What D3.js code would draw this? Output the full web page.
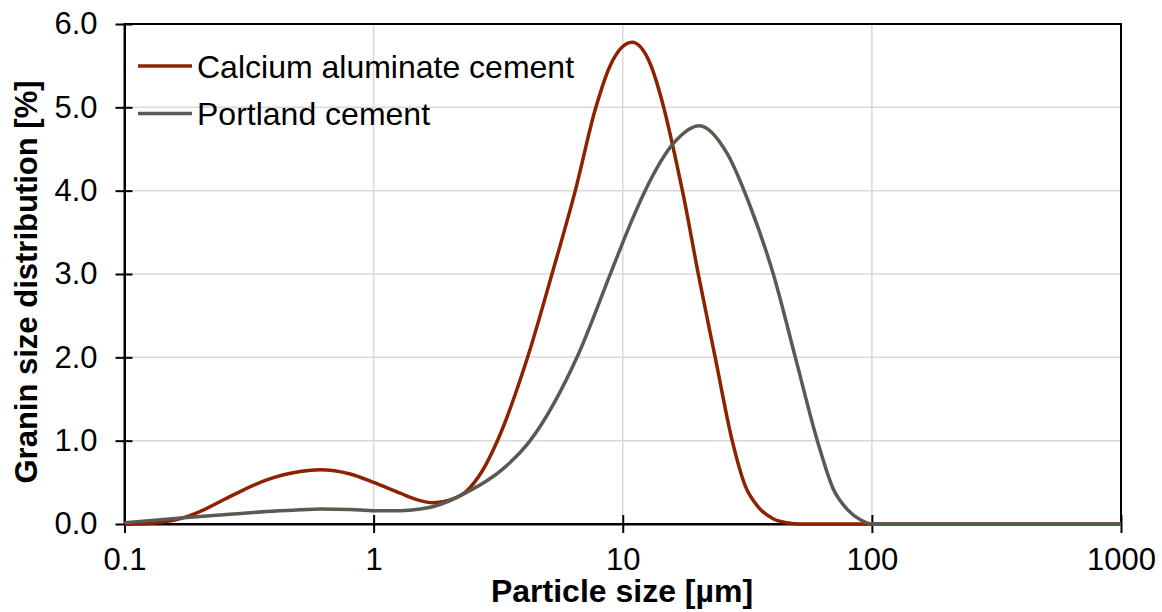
<!DOCTYPE html>
<html>
<head>
<meta charset="utf-8">
<script src="https://cdn.jsdelivr.net/npm/d3@7"></script>
<style>
  html, body { margin: 0; padding: 0; background: #fff; }
  svg { display: block; font-family: "Liberation Sans", Arial, sans-serif; }
</style>
</head>
<body>
<svg id="chart" width="1162" height="612"></svg>
<script>
// Particle size (µm) and distribution (%) for each cement
const cacSize = [0.1, 0.1154, 0.139, 0.16, 0.183, 0.201, 0.2735, 0.3725, 0.507, 0.61, 0.805, 1.0, 1.278, 1.5, 1.74, 2.03, 2.37, 2.72, 3.14, 4.15, 5.2, 6.45, 7.8, 8.9, 10.9, 12.9, 14.6, 16.2, 17.5, 20.1, 23.5, 27.5, 31.0, 35.1, 40.3, 45.6, 51.6, 100, 1000];
const cacValue = [0.0, 0.0, 0.02, 0.05, 0.1, 0.15, 0.35, 0.53, 0.63, 0.65, 0.60, 0.50, 0.37, 0.29, 0.255, 0.29, 0.40, 0.63, 1.0, 2.0, 3.0, 4.0, 5.0, 5.5, 5.78, 5.52, 5.0, 4.42, 3.95, 3.0, 2.0, 1.0, 0.46, 0.2, 0.06, 0.015, 0.0, 0.0, 0.0];

const opcSize = [0.1, 0.183, 0.2735, 0.3725, 0.507, 0.61, 0.805, 1.0, 1.278, 1.54, 1.74, 2.03, 2.37, 3.27, 4.25, 6.55, 9.05, 10.9, 12.3, 16.0, 20.3, 26.2, 32.5, 40.2, 49.3, 60.4, 70.0, 80.0, 90.0, 100, 1000];
const opcValue = [0.016, 0.08, 0.12, 0.15, 0.17, 0.18, 0.175, 0.16, 0.16, 0.18, 0.21, 0.28, 0.38, 0.65, 1.0, 2.0, 3.05, 3.65, 4.0, 4.57, 4.78, 4.45, 3.81, 3.0, 2.0, 1.0, 0.42, 0.17, 0.05, 0.0, 0.0];

const seriesNames = ["Calcium aluminate cement", "Portland cement"];
const seriesColors = ["#8c2200", "#595a52"];

const xTicks = [0.1, 1, 10, 100, 1000];
const xTickLabels = ["0.1", "1", "10", "100", "1000"];
const yTicks = [0, 1, 2, 3, 4, 5, 6];
const yTickLabels = ["0.0", "1.0", "2.0", "3.0", "4.0", "5.0", "6.0"];

const xTitle = "Particle size [µm]";
const yTitle = "Granin size distribution [%]";

const svg = d3.select("#chart");
const plotLeft = 124.5, plotRight = 1121, plotTop = 24, plotBottom = 524;

const x = d3.scaleLog().domain([0.1, 1000]).range([plotLeft, plotRight]);
const y = d3.scaleLinear().domain([0, 6]).range([plotBottom, plotTop]);

// Gridlines
const grid = svg.append("g");
grid.selectAll("line.h").data(yTicks.slice(1, -1)).join("line")
  .attr("class", "h")
  .attr("x1", plotLeft).attr("x2", plotRight)
  .attr("y1", d => y(d)).attr("y2", d => y(d))
  .attr("stroke", "#d9d9d9").attr("stroke-width", 1.5);
grid.selectAll("line.v").data(xTicks.slice(1, -1)).join("line")
  .attr("class", "v")
  .attr("x1", d => x(d)).attr("x2", d => x(d))
  .attr("y1", plotTop).attr("y2", plotBottom)
  .attr("stroke", "#d9d9d9").attr("stroke-width", 1.5);

// Frame
svg.append("rect")
  .attr("x", plotLeft).attr("y", plotTop)
  .attr("width", plotRight - plotLeft).attr("height", plotBottom - plotTop)
  .attr("fill", "none").attr("stroke", "#000").attr("stroke-width", 2);

// X axis with ticks crossing the axis line
const xAxis = d3.axisBottom(x)
  .tickValues(xTicks)
  .tickFormat((d, i) => xTickLabels[i])
  .tickSizeInner(8).tickSizeOuter(0).tickPadding(16);
const gx = svg.append("g").attr("transform", `translate(0,${plotBottom})`).call(xAxis);
gx.select(".domain").attr("stroke", "#000").attr("stroke-width", 2);
gx.selectAll(".tick line").attr("y1", -9).attr("y2", 9).attr("stroke", "#000").attr("stroke-width", 2);
gx.selectAll(".tick text").attr("font-size", 31).attr("fill", "#000")
  .attr("font-family", "Liberation Sans, Arial, sans-serif");

// Y axis with ticks crossing the axis line
const yAxis = d3.axisLeft(y)
  .tickValues(yTicks)
  .tickFormat((d, i) => yTickLabels[i])
  .tickSizeInner(8).tickSizeOuter(0).tickPadding(19);
const gy = svg.append("g").attr("transform", `translate(${plotLeft},0)`).call(yAxis);
gy.select(".domain").attr("stroke", "#000").attr("stroke-width", 2);
gy.selectAll(".tick line").attr("x1", -9).attr("x2", 8).attr("stroke", "#000").attr("stroke-width", 2);
gy.selectAll(".tick text").attr("font-size", 31).attr("fill", "#000")
  .attr("font-family", "Liberation Sans, Arial, sans-serif");

// Smoothed curves
const line = d3.line()
  .x(d => x(d[0]))
  .y(d => y(d[1]))
  .curve(d3.curveMonotoneX);

const series = [
  { name: seriesNames[0], color: seriesColors[0], pts: d3.zip(cacSize, cacValue) },
  { name: seriesNames[1], color: seriesColors[1], pts: d3.zip(opcSize, opcValue) }
];

svg.append("g").selectAll("path").data(series).join("path")
  .attr("d", d => line(d.pts))
  .attr("fill", "none")
  .attr("stroke", d => d.color)
  .attr("stroke-width", 3.5)
  .attr("stroke-linejoin", "round");

// Legend
const legend = svg.append("g");
series.forEach((s, i) => {
  const ly = 66 + i * 47.5;
  legend.append("line")
    .attr("x1", 138).attr("x2", 192).attr("y1", ly).attr("y2", ly)
    .attr("stroke", s.color).attr("stroke-width", 3.5);
  legend.append("text")
    .attr("x", 197).attr("y", ly).attr("dy", "0.36em")
    .attr("font-size", 32).attr("fill", "#000")
    .text(s.name);
});

// Axis titles
svg.append("text")
  .attr("x", 622).attr("y", 602)
  .attr("text-anchor", "middle")
  .attr("font-size", 32).attr("font-weight", "bold").attr("fill", "#000")
  .text(xTitle);

svg.append("text")
  .attr("transform", "translate(37,282) rotate(-90)")
  .attr("text-anchor", "middle")
  .attr("font-size", 31).attr("font-weight", "bold").attr("fill", "#000")
  .text(yTitle);
</script>
</body>
</html>
